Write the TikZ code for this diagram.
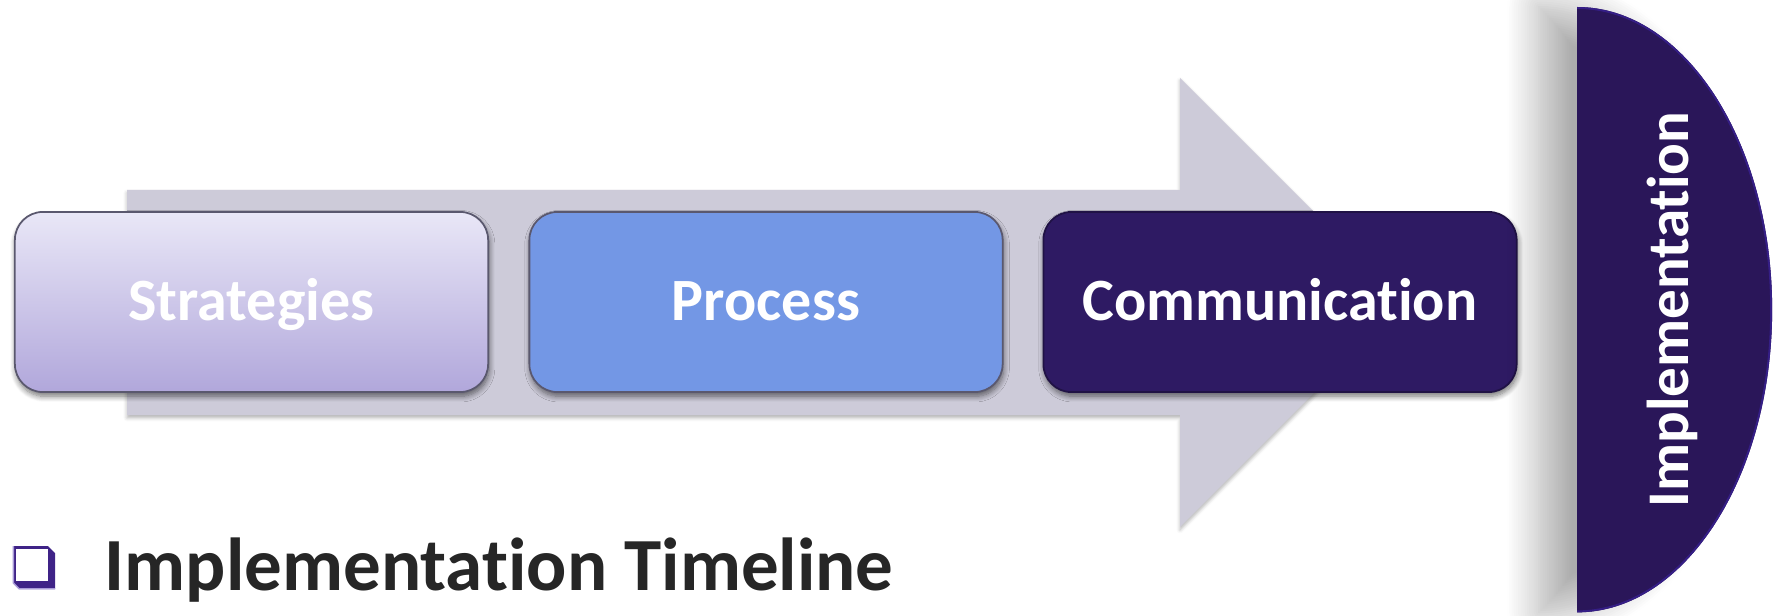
\documentclass[tikz,border=0pt]{standalone}
\usepackage{fontspec}
\setmainfont{Carlito}[Ligatures=NoCommon]
\usepackage{tikz}
\usetikzlibrary{shadows.blur}
\definecolor{arrowgray}{HTML}{CDCBD9}
\definecolor{boxline}{HTML}{5A586E}
\definecolor{stratTop}{HTML}{E9E7F7}
\definecolor{stratBot}{HTML}{B1A7DB}
\definecolor{procFill}{HTML}{7397E5}
\definecolor{commFill}{HTML}{2E1A63}
\definecolor{capFill}{HTML}{2A1659}
\definecolor{capRim}{HTML}{351E86}
\definecolor{bulletPurple}{HTML}{3F2387}
\definecolor{bulletEdge}{HTML}{A99BD8}
\definecolor{titleGray}{HTML}{262626}
\tikzset{
  stagebox/.style={rounded corners=0.28cm, minimum width=4.73cm, minimum height=1.8cm,
    inner sep=0pt, draw=boxline, line width=0.5pt, text=white,
    font=\fontsize{17.07}{20}\selectfont\bfseries, text height=14.8pt, text depth=4pt,
    blur shadow={shadow xshift=0.3pt, shadow yshift=-1.2pt, shadow blur radius=1.6pt,
      shadow opacity=55, shadow blur steps=8}}
}
\newcommand{\halfcap}{(1577,608) arc[start angle=90, end angle=-90, x radius=1.95cm, y radius=3.025cm] -- cycle}

\begin{document}
\begin{tikzpicture}[x=0.01cm, y=0.01cm]
  \useasboundingbox (0,0) rectangle (1783,615);
  % big arrow behind the stages
  \fill[arrowgray, blur shadow={shadow xshift=0pt, shadow yshift=-0.8pt, shadow blur radius=1pt, shadow opacity=30}]
    (127,425) -- (1180,425) -- (1180,537) -- (1404.5,312.5) -- (1180,88) -- (1180,200) -- (127,200) -- cycle;
  \node[stagebox, top color=stratTop, bottom color=stratBot] (strategies) at (251.5,313) {Strategies};
  \node[stagebox, fill=procFill] (process) at (766,313) {Process};
  \node[stagebox, fill=commFill, draw=commFill!70!black] (communication) at (1280,313) {Communication};
  % half disc on the right
  \fill[capFill, blur shadow={shadow xshift=-0.38cm, shadow yshift=0cm, shadow blur radius=0.32cm,
    shadow opacity=32, shadow blur steps=15}] \halfcap;
  \begin{scope}
    \clip \halfcap;
    \draw[capRim, line width=1.1pt] (1577,608) arc[start angle=90, end angle=-90, x radius=1.95cm, y radius=3.025cm];
  \end{scope}
  \node[rotate=90, anchor=base, inner sep=0pt, text=white,
    font=\fontsize{16.8}{20}\selectfont\bfseries] (impl) at (1688,305.5) {Implementation};
  % bullet and title
  \fill[bulletPurple] (13,69) -- (48,69) -- (55,62) -- (55,26) -- (19,26) -- (13,32) -- cycle;
  \draw[bulletEdge, line width=0.4pt] (13.3,69) -- (13.3,32) -- (19,26.3) -- (55,26.3);
  \fill[white] (16,34) rectangle (48,66);
  \node[anchor=base west, inner sep=0pt, text=titleGray,
    font=\fontsize{21.34}{25}\selectfont\bfseries] (title) at (104,25) {Implementation Timeline};
\end{tikzpicture}
\end{document}
